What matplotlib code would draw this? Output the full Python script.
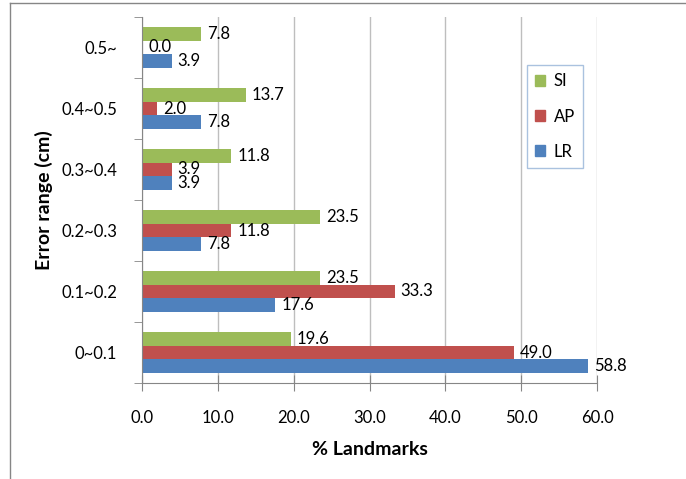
import matplotlib.pyplot as plt
import numpy as np
from matplotlib.lines import Line2D
from matplotlib.patches import Patch

plt.rcParams['font.family'] = ['Lato', 'DejaVu Sans']

# categories from bottom to top
kategorijas = ['0~0.1', '0.1~0.2', '0.2~0.3', '0.3~0.4', '0.4~0.5', '0.5~']
lr = [58.8, 17.6, 7.8, 3.9, 7.8, 3.9]
ap = [49.0, 33.3, 11.8, 3.9, 2.0, 0.0]
si = [19.6, 23.5, 23.5, 11.8, 13.7, 7.8]

krasas = {'SI': '#9BBB59', 'AP': '#C0504D', 'LR': '#4F81BD'}

fig = plt.figure(figsize=(6.86, 4.79), dpi=100)
ax = fig.add_axes([142 / 686, 1 - 383 / 479, (597 - 142) / 686, (383 - 17) / 479])

y = np.arange(len(kategorijas))
h = 0.22
serijas = [('LR', lr, -h), ('AP', ap, 0), ('SI', si, h)]
for nos, vert, nob in serijas:
    ax.barh(y + nob, vert, height=h, color=krasas[nos], edgecolor='none')
    for yi, v in zip(y, vert):
        ax.text(v + 0.8, yi + nob, f'{v:.1f}', va='center', ha='left', fontsize=12)

ax.set_xlim(0, 60)
ax.set_ylim(-0.5, len(kategorijas) - 0.5)
ax.set_xticks(np.arange(0, 61, 10))
ax.set_xticklabels([f'{v:.1f}' for v in np.arange(0, 61, 10)], fontsize=12)
ax.set_yticks(y)
ax.set_yticklabels(kategorijas, fontsize=12)
ax.set_yticks(np.arange(-0.5, len(kategorijas), 1), minor=True)
ax.tick_params(axis='y', which='major', length=0, pad=18)
ax.tick_params(axis='y', which='minor', length=6, color='#868686', direction='out')
ax.tick_params(axis='x', length=11, direction='inout', color='#868686', pad=14)

ax.grid(axis='x', color='#BEBEBE', linewidth=1)
ax.set_axisbelow(True)
for s in ['top', 'right']:
    ax.spines[s].set_visible(False)
for s in ['left', 'bottom']:
    ax.spines[s].set_color('#868686')

ax.set_xlabel('% Landmarks', fontsize=14, fontweight='bold', labelpad=11)
ax.set_ylabel('Error range (cm)', fontsize=14, fontweight='bold', labelpad=6)

rokturi = [Patch(color=krasas[n]) for n in ['SI', 'AP', 'LR']]
leg = fig.legend(rokturi, ['SI', 'AP', 'LR'], loc='upper left',
                 bbox_to_anchor=(527 / 686, 1 - 65 / 479), borderaxespad=0,
                 fontsize=12, frameon=True, fancybox=False, handlelength=0.6,
                 handleheight=0.6, handletextpad=0.5, labelspacing=1.15,
                 borderpad=0.5)
leg.get_frame().set_edgecolor('#95B3D7')
leg.get_frame().set_linewidth(1)

# chart frame (cropped)
fig.add_artist(Line2D([10 / 686, 10 / 686], [0, 1 - 3 / 479], color='#868686', linewidth=1))
fig.add_artist(Line2D([10 / 686, 1], [1 - 3 / 479, 1 - 3 / 479], color='#868686', linewidth=1))

fig.savefig('out.png', dpi=100)
